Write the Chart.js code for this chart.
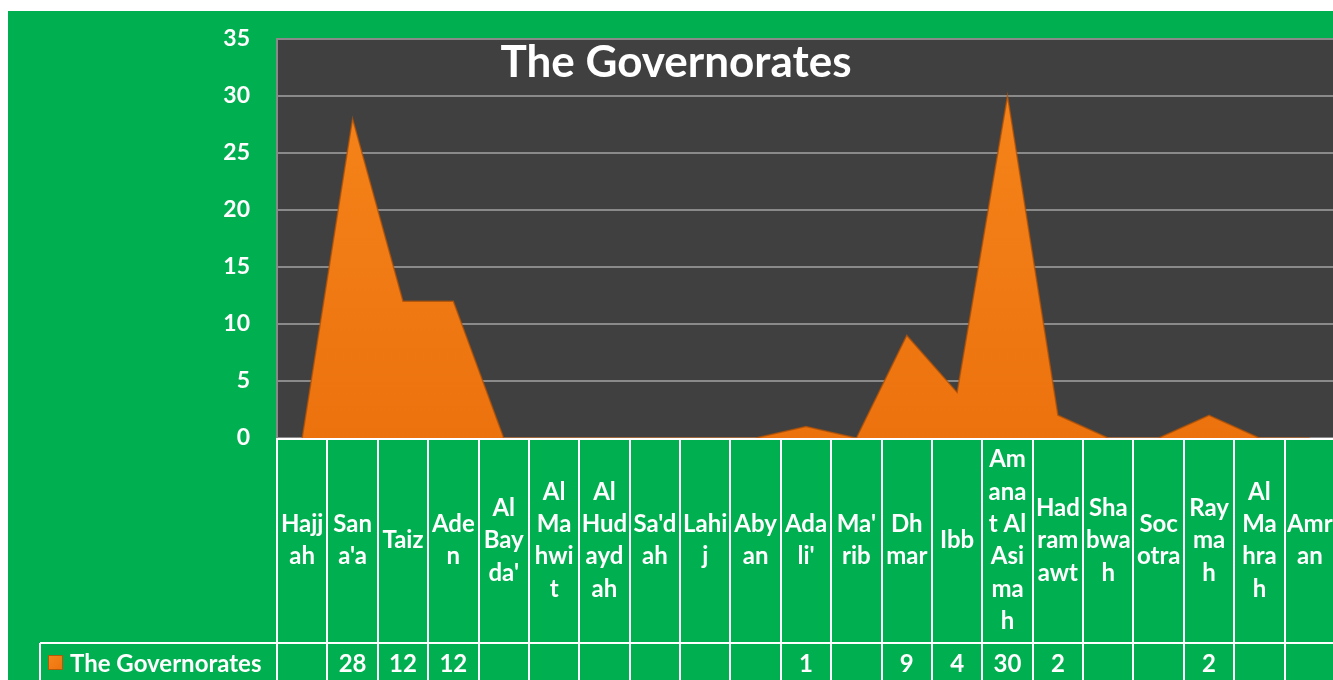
<!DOCTYPE html>
<html>
<head>
<meta charset="utf-8">
<script src="https://cdn.jsdelivr.net/npm/chart.js@4.4.1/dist/chart.umd.min.js"></script>
<style>
    html, body { margin: 0; padding: 0; background: #fff; width: 1333px; height: 680px; overflow: hidden; }
    #marco { position: absolute; left: 8px; top: 11px; width: 1340px; height: 669px; background: #00B050; }
    canvas { display: block; }
</style>
</head>
<body>
<div id="marco"><canvas id="gobernacionesChart" width="1340" height="669"></canvas></div>
<script>
// Datos del gráfico
const categorias = ['Hajjah', "Sana'a", 'Taiz', 'Aden', "Al Bayda'", 'Al Mahwit', 'Al Hudaydah', "Sa'dah", 'Lahij', 'Abyan',
    "Adali'", "Ma'rib", 'Dhmar', 'Ibb', 'Amanat Al Asimah', 'Hadramawt', 'Shabwah', 'Socotra', 'Raymah', 'Al Mahrah', 'Amran'];

// Etiquetas tal como aparecen partidas en la tabla
const etiquetasTabla = [['Hajj', 'ah'], ['San', "a'a"], ['Taiz'], ['Ade', 'n'], ['Al', 'Bay', "da'"], ['Al', 'Ma', 'hwi', 't'],
    ['Al', 'Hud', 'ayd', 'ah'], ["Sa'd", 'ah'], ['Lahi', 'j'], ['Aby', 'an'], ['Ada', "li'"], ["Ma'", 'rib'], ['Dh', 'mar'], ['Ibb'],
    ['Am', 'ana', 't Al', 'Asi', 'ma', 'h'], ['Had', 'ram', 'awt'], ['Sha', 'bwa', 'h'], ['Soc', 'otra'], ['Ray', 'ma', 'h'],
    ['Al', 'Ma', 'hra', 'h'], ['Amr', 'an']];

// Celdas vacías = null (en el gráfico se dibujan como cero)
const valores = [null, 28, 12, 12, null, null, null, null, null, null, 1, null, 9, 4, 30, 2, null, null, 2, null, null];

const ticksY = [0, 5, 10, 15, 20, 25, 30, 35];
const nombreSerie = 'The Governorates';
const tituloGrafico = 'The Governorates';

const FUENTE = 'Lato, "Open Sans", sans-serif';
let gobernacionesChart = null;

// Fondo gris del área de trazado
const fondoPlugin = {
    id: 'fondo',
    beforeDraw(chart) {
        const { ctx, chartArea: a } = chart;
        ctx.save();
        ctx.fillStyle = '#404040';
        ctx.fillRect(a.left, a.top, a.right - a.left, a.bottom - a.top);
        ctx.restore();
    }
};

function degradadoNaranja(ctx, x0, y0, x1, y1) {
    const g = ctx.createLinearGradient(x0, y0, x1, y1);
    g.addColorStop(0, '#F7861C');
    g.addColorStop(1, '#EC720E');
    return g;
}

// Título y tabla de datos debajo del gráfico
const tablaPlugin = {
    id: 'tabla',
    afterDraw(chart) {
        const { ctx, chartArea: a, scales } = chart;
        const x = scales.x;
        const n = categorias.length;
        const ancho = (a.right - a.left) / n;
        const topEtiq = a.bottom;
        const topFila = 632;
        const fin = chart.height;

        ctx.save();

        // Título
        ctx.fillStyle = '#fff';
        ctx.font = 'bold 44px ' + FUENTE;
        ctx.textAlign = 'center';
        ctx.textBaseline = 'alphabetic';
        ctx.fillText(tituloGrafico, 668, 66);

        // Líneas blancas de la tabla
        ctx.strokeStyle = '#fff';
        ctx.lineWidth = 2;
        ctx.beginPath();
        ctx.moveTo(a.left, topEtiq + 1);
        ctx.lineTo(chart.width, topEtiq + 1);
        ctx.moveTo(32, topFila);
        ctx.lineTo(chart.width, topFila);
        ctx.moveTo(32, topFila);
        ctx.lineTo(32, fin);
        for (let i = 0; i <= n; i++) {
            const px = Math.round(x.getPixelForValue(i) - ancho / 2);
            ctx.moveTo(px, topEtiq);
            ctx.lineTo(px, fin);
        }
        ctx.stroke();

        // Etiquetas de categoría
        ctx.font = 'bold 24px ' + FUENTE;
        ctx.textBaseline = 'middle';
        const alto = 32.4;
        const centroY = (topEtiq + topFila) / 2;
        etiquetasTabla.forEach((lineas, i) => {
            const cx = x.getPixelForValue(i);
            const y0 = centroY - (lineas.length - 1) * alto / 2;
            lineas.forEach((t, k) => ctx.fillText(t, cx, y0 + k * alto));
        });

        // Fila de valores
        const filaY = topFila + 21;
        valores.forEach((v, i) => {
            if (v === null) return;
            ctx.fillText(String(v), x.getPixelForValue(i), filaY);
        });

        // Leyenda
        ctx.fillStyle = degradadoNaranja(ctx, 40, 644, 55, 659);
        ctx.fillRect(40, 644, 15, 15);
        ctx.strokeStyle = '#B05A0A';
        ctx.lineWidth = 1;
        ctx.strokeRect(40.5, 644.5, 14, 14);
        ctx.fillStyle = '#fff';
        ctx.textAlign = 'left';
        ctx.fillText(nombreSerie, 62, filaY);

        ctx.restore();
    }
};

function createGobernacionesChart() {
    const canvas = document.getElementById('gobernacionesChart');
    if (!canvas) return;

    const ctx = canvas.getContext('2d');
    if (gobernacionesChart) gobernacionesChart.destroy();

    gobernacionesChart = new Chart(ctx, {
        type: 'line',
        data: {
            labels: categorias,
            datasets: [{
                label: nombreSerie,
                data: valores.map(v => v ?? 0),
                fill: 'origin',
                backgroundColor: (c) => {
                    const a = c.chart.chartArea;
                    if (!a) return '#F07A12';
                    return degradadoNaranja(c.chart.ctx, 0, a.top, 0, a.bottom);
                },
                borderColor: 'rgba(175, 80, 5, 0.75)',
                borderWidth: 1.5,
                pointRadius: 0,
                tension: 0
            }]
        },
        options: {
            responsive: false,
            animation: false,
            layout: { padding: { left: 0, top: 28, right: 13, bottom: 242 } },
            plugins: {
                legend: { display: false },
                title: { display: false },
                tooltip: { enabled: false }
            },
            scales: {
                x: {
                    type: 'category',
                    display: false,
                    offset: true
                },
                y: {
                    min: 0,
                    max: 35,
                    afterBuildTicks: (s) => { s.ticks = ticksY.map(v => ({ value: v })); },
                    afterFit: (s) => {
                        s.width = 269;
                        s.paddingTop = 0;
                        s.paddingBottom = 0;
                    },
                    grid: { color: '#8A8A8A', lineWidth: 2, drawTicks: false },
                    border: { display: true, color: '#8A8A8A', width: 2 },
                    ticks: {
                        color: '#fff',
                        padding: 27,
                        font: { family: FUENTE, size: 23, weight: 'bold' }
                    }
                }
            }
        },
        plugins: [fondoPlugin, tablaPlugin]
    });
}

document.addEventListener('DOMContentLoaded', () => {
    createGobernacionesChart();
});
</script>
</body>
</html>
